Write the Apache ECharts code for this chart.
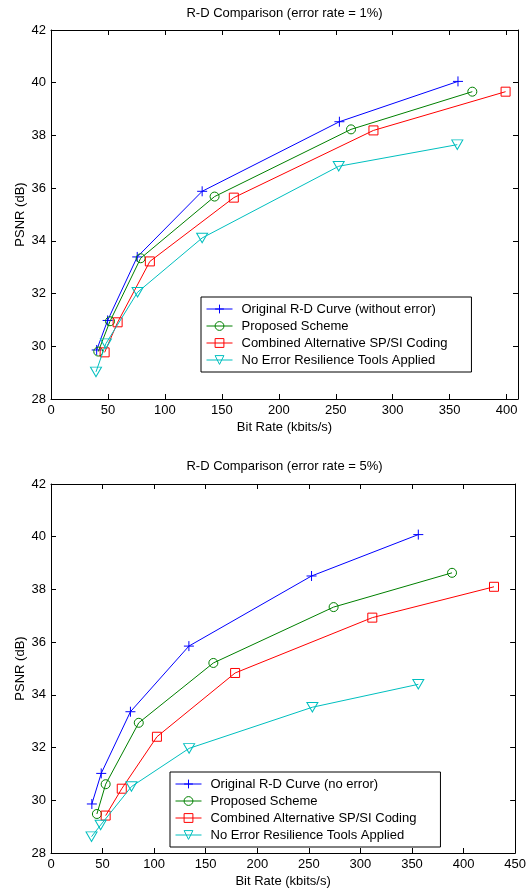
<!DOCTYPE html>
<html>
<head>
<meta charset="utf-8">
<script src="https://cdn.jsdelivr.net/npm/echarts@6/dist/echarts.min.js"></script>
<style>
html,body{margin:0;padding:0;background:#fff;}
#main{width:529px;height:895px;}
</style>
</head>
<body>
<div id="main"></div>
<script>
// ---- Data ----
var seriesNamesTop = ['Original R-D Curve (without error)', 'Proposed Scheme', 'Combined Alternative SP/SI Coding', 'No Error Resilience Tools Applied'];
var seriesNamesBot = ['Original R-D Curve (no error)', 'Proposed Scheme', 'Combined Alternative SP/SI Coding', 'No Error Resilience Tools Applied'];
var titleTop = 'R-D Comparison (error rate = 1%)';
var titleBot = 'R-D Comparison (error rate = 5%)';
var xName = 'Bit Rate (kbits/s)';
var yName = 'PSNR (dB)';

var top_x_orig = [40.1, 49.7, 75.7, 132.7, 253.2, 357.3];
var top_y_orig = [29.86, 30.98, 33.39, 35.88, 38.52, 40.05];
var top_x_prop = [41.5, 51.8, 78.7, 143.6, 263.4, 369.9];
var top_y_prop = [29.80, 30.95, 33.34, 35.68, 38.23, 39.66];
var top_x_comb = [47.1, 58.5, 86.8, 160.5, 283.1, 399.1];
var top_y_comb = [29.77, 30.91, 33.22, 35.64, 38.19, 39.66];
var top_x_noer = [39.5, 48.2, 76.0, 132.7, 252.6, 356.7];
var top_y_noer = [29.03, 30.10, 32.05, 34.11, 36.83, 37.65];

var bot_x_orig = [39.6, 48.7, 77.0, 133.7, 252.6, 356.1];
var bot_y_orig = [29.86, 31.02, 33.36, 35.85, 38.51, 40.08];
var bot_x_prop = [44.5, 53.0, 85.1, 157.4, 274.0, 388.8];
var bot_y_prop = [29.48, 30.61, 32.94, 35.21, 37.33, 38.63];
var bot_x_comb = [53.0, 68.6, 102.7, 178.5, 311.5, 429.5];
var bot_y_comb = [29.42, 30.44, 32.41, 34.83, 36.93, 38.10];
var bot_x_noer = [39.3, 48.1, 78.0, 133.9, 253.4, 356.1];
var bot_y_noer = [28.62, 29.06, 30.52, 31.97, 33.53, 34.40];

var top_x_ticks = [0, 50, 100, 150, 200, 250, 300, 350, 400];
var bot_x_ticks = [0, 50, 100, 150, 200, 250, 300, 350, 400, 450];
var y_ticks = [28, 30, 32, 34, 36, 38, 40, 42];

// ---- Styles ----
var colors = ['#0000ff', '#008000', '#ff0000', '#00bfbf'];
var symbols = ['path://M0,5L10,5M5,0L5,10', 'circle', 'rect', 'path://M0,0L10,0L5,8.66Z'];
var symSizes = [10, 9, 9, [11, 9.5]];
var FONT = 'Liberation Sans, Arial, Helvetica, sans-serif';
var FS = 13;

function pairs(xs, ys) { return xs.map(function (x, i) { return [x, ys[i]]; }); }

function mkSeries(name, idx, xs, ys, gi) {
  return {
    type: 'line', name: name, xAxisIndex: gi * 2, yAxisIndex: gi * 2,
    data: pairs(xs, ys),
    symbol: symbols[idx], symbolSize: symSizes[idx],
    showAllSymbol: true,
    lineStyle: { color: colors[idx], width: 1 },
    itemStyle: { color: 'rgba(0,0,0,0)', borderColor: colors[idx], borderWidth: 1 },
    emphasis: { disabled: true },
    animation: false, z: 3 + idx
  };
}

function tickSet(arr) { var s = {}; arr.forEach(function (v) { s[v] = true; }); return s; }
var topXSet = tickSet(top_x_ticks), botXSet = tickSet(bot_x_ticks), ySet = tickSet(y_ticks);

function xAxisMain(gi, max, set) {
  return {
    type: 'value', gridIndex: gi, min: 0, max: max, interval: 50, position: 'bottom',
    name: xName, nameLocation: 'middle', nameGap: 22, nameMoveOverlap: false,
    nameTextStyle: { fontFamily: FONT, fontSize: FS, color: '#000' },
    axisLine: { show: true, onZero: false, lineStyle: { color: '#000', width: 1 } },
    axisTick: { show: true, inside: true, length: 5, lineStyle: { color: '#000' } },
    axisLabel: { show: true, margin: 5, fontFamily: FONT, fontSize: FS, color: '#000',
      formatter: function (v) { return set[v] ? String(v) : ''; } },
    splitLine: { show: false }
  };
}
function xAxisTop(gi, max) {
  return {
    type: 'value', gridIndex: gi, min: 0, max: max, interval: 50, position: 'top',
    axisLine: { show: true, onZero: false, lineStyle: { color: '#000', width: 1 } },
    axisTick: { show: true, inside: true, length: 5, lineStyle: { color: '#000' } },
    axisLabel: { show: false }, splitLine: { show: false }
  };
}
function yAxisMain(gi) {
  return {
    type: 'value', gridIndex: gi, min: 28, max: 42, interval: 2, position: 'left',
    name: yName, nameLocation: 'middle', nameGap: 24, nameRotate: 90, nameMoveOverlap: false,
    nameTextStyle: { fontFamily: FONT, fontSize: FS, color: '#000' },
    axisLine: { show: true, onZero: false, lineStyle: { color: '#000', width: 1 } },
    axisTick: { show: true, inside: true, length: 5, lineStyle: { color: '#000' } },
    axisLabel: { show: true, margin: 5, fontFamily: FONT, fontSize: FS, color: '#000',
      formatter: function (v) { return ySet[v] ? String(v) : ''; } },
    splitLine: { show: false }
  };
}
function yAxisRight(gi) {
  return {
    type: 'value', gridIndex: gi, min: 28, max: 42, interval: 2, position: 'right',
    axisLine: { show: true, onZero: false, lineStyle: { color: '#000', width: 1 } },
    axisTick: { show: true, inside: true, length: 5, lineStyle: { color: '#000' } },
    axisLabel: { show: false }, splitLine: { show: false }
  };
}

function legendCfg(names, left, top) {
  return {
    data: names, orient: 'vertical', left: left, top: top,
    backgroundColor: '#fff', borderColor: '#000', borderWidth: 1, borderRadius: 0,
    padding: [5, 24, 5, 5], itemGap: 3, itemWidth: 26, itemHeight: 11,
    selectedMode: false,
    lineStyle: { width: 1 },
    itemStyle: { borderWidth: 1 },
    textStyle: { fontFamily: FONT, fontSize: FS, color: '#000', lineHeight: 14, padding: [0, 0, 0, 4] }
  };
}

var option = {
  backgroundColor: '#fff',
  animation: false,
  title: [
    { text: titleTop, left: 284.5, top: 7, padding: 0, textAlign: 'center',
      textStyle: { fontFamily: FONT, fontSize: FS, fontWeight: 'normal', color: '#000' } },
    { text: titleBot, left: 284.5, top: 460, padding: 0, textAlign: 'center',
      textStyle: { fontFamily: FONT, fontSize: FS, fontWeight: 'normal', color: '#000' } }
  ],
  grid: [
    { left: 51, top: 30, width: 467, height: 369, containLabel: false },
    { left: 51, top: 484, width: 467, height: 369, containLabel: false }
  ],
  xAxis: [xAxisMain(0, 410, topXSet), xAxisTop(0, 410), xAxisMain(1, 450, botXSet), xAxisTop(1, 450)],
  yAxis: [yAxisMain(0), yAxisRight(0), yAxisMain(1), yAxisRight(1)],
  legend: [legendCfg(seriesNamesTop, 201, 297), legendCfg(seriesNamesBot, 170, 772)],
  series: [
    mkSeries(seriesNamesTop[0], 0, top_x_orig, top_y_orig, 0),
    mkSeries(seriesNamesTop[1], 1, top_x_prop, top_y_prop, 0),
    mkSeries(seriesNamesTop[2], 2, top_x_comb, top_y_comb, 0),
    mkSeries(seriesNamesTop[3], 3, top_x_noer, top_y_noer, 0),
    mkSeries(seriesNamesBot[0], 0, bot_x_orig, bot_y_orig, 1),
    mkSeries(seriesNamesBot[1], 1, bot_x_prop, bot_y_prop, 1),
    mkSeries(seriesNamesBot[2], 2, bot_x_comb, bot_y_comb, 1),
    mkSeries(seriesNamesBot[3], 3, bot_x_noer, bot_y_noer, 1)
  ]
};

var chart = echarts.init(document.getElementById('main'), null, { renderer: 'canvas' });
chart.setOption(option);
</script>
</body>
</html>
